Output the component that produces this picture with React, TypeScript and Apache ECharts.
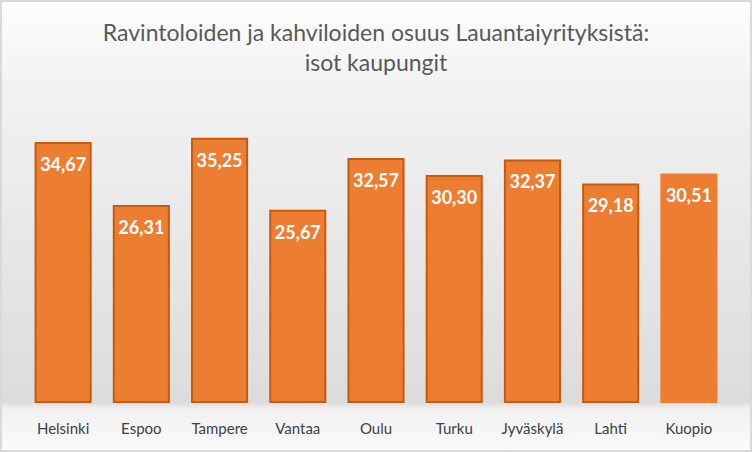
import React, { useEffect, useRef } from "react";
import * as echarts from "echarts";

const titleText = "Ravintoloiden ja kahviloiden osuus Lauantaiyrityksistä:\nisot kaupungit";
const categories = ["Helsinki", "Espoo", "Tampere", "Vantaa", "Oulu", "Turku", "Jyväskylä", "Lahti", "Kuopio"];
const values = [34.67, 26.31, 35.25, 25.67, 32.57, 30.3, 32.37, 29.18, 30.51];
const borderless = ["Kuopio"];

const FONT = "Lato, 'Noto Sans', sans-serif";

export default function App() {
  const ref = useRef<HTMLDivElement>(null);
  useEffect(() => {
    document.body.style.margin = "0";
    const chart = echarts.init(ref.current!, null, { renderer: "svg" });
    chart.setOption({
      animation: false,
      backgroundColor: {
        type: "linear", x: 0, y: 0, x2: 0, y2: 1,
        colorStops: [
          { offset: 0, color: "#fdfdfd" },
          { offset: 0.22, color: "#f1f1f1" },
          { offset: 0.89, color: "#dcdcdc" },
          { offset: 0.905, color: "#f1f1f1" },
          { offset: 1, color: "#fbfbfb" },
        ],
      },
      graphic: [
        {
          type: "rect",
          shape: { x: 1, y: 1, width: 750, height: 450 },
          style: { fill: "none", stroke: "#d9d9d9", lineWidth: 2 },
          silent: true,
        },
      ],
      title: {
        text: titleText,
        left: "center",
        top: 12,
        textStyle: {
          fontFamily: FONT,
          fontSize: 23,
          fontWeight: "normal",
          color: "#595959",
          lineHeight: 30,
        },
      },
      grid: { left: 24, right: 24, top: 102, bottom: 49, containLabel: false },
      xAxis: {
        type: "category",
        data: categories,
        axisLine: { show: false },
        axisTick: { show: false },
        axisLabel: {
          fontFamily: FONT,
          fontSize: 15,
          color: "#404040",
          margin: 17,
          interval: 0,
        },
      },
      yAxis: {
        type: "value",
        min: 0,
        max: 40,
        show: false,
        splitLine: { show: false },
      },
      series: [
        {
          type: "bar",
          barWidth: "73%",
          data: values.map((v, i) => ({
            value: v,
            itemStyle: borderless.includes(categories[i])
              ? { borderWidth: 0 }
              : { borderColor: "#c55a11", borderWidth: 2 },
          })),
          itemStyle: { color: "#ed7d31" },
          label: {
            show: true,
            position: "insideTop",
            distance: 13,
            formatter: (p: any) => p.value.toFixed(2).replace(".", ","),
            fontFamily: FONT,
            fontSize: 18,
            fontWeight: "bold",
            color: "#ffffff",
          },
        },
      ],
    });
    return () => chart.dispose();
  }, []);
  return <div ref={ref} style={{ width: 752, height: 452 }} />;
}
